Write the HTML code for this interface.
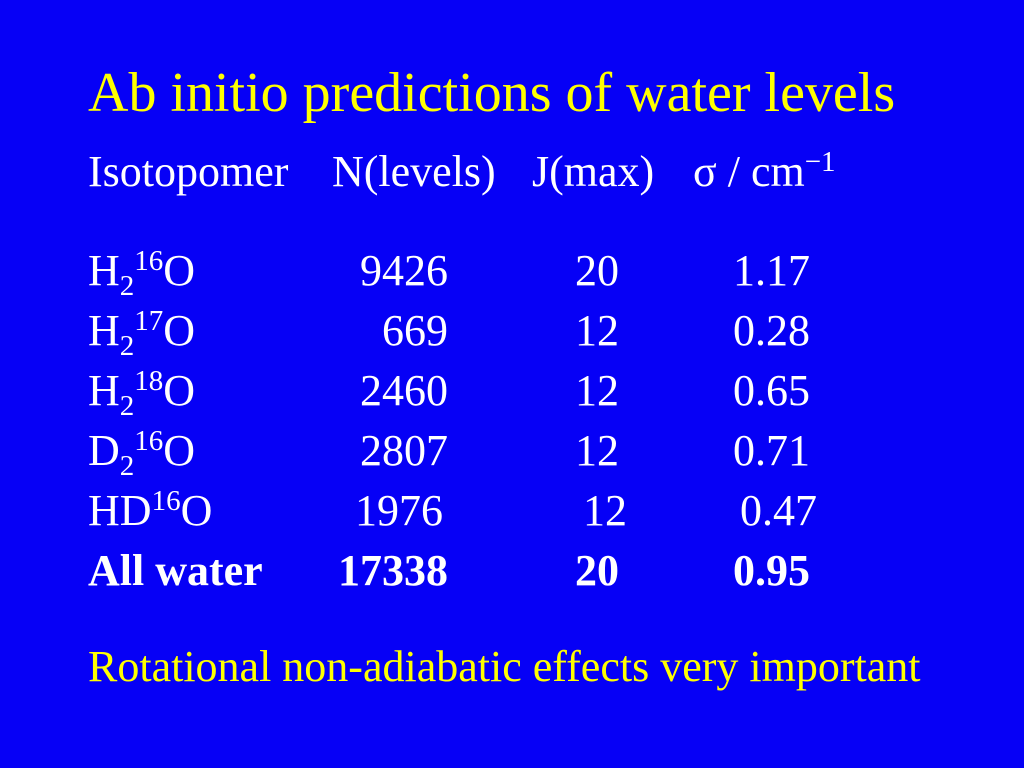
<!DOCTYPE html>
<html><head><meta charset="utf-8"><style>
body{margin:0;width:1024px;height:768px;background:#0600f6;overflow:hidden;position:relative;font-family:"Liberation Serif",serif;}
div.t{position:absolute;line-height:1;white-space:nowrap;color:#fff;font-size:44px;}
.y{color:#ffff00 !important}
.b{font-weight:bold}
.r{text-align:right}
sub,sup{font-size:29px;line-height:0}
sub{vertical-align:-10px}sup{vertical-align:15px}
</style></head><body>
<div class="t y" style="left:88px;top:65px;font-size:56px">Ab initio predictions of water levels</div>
<div class="t" style="left:88px;top:150px">Isotopomer</div>
<div class="t" style="left:332px;top:150px">N(levels)</div>
<div class="t" style="left:532px;top:150px">J(max)</div>
<div class="t" style="left:693px;top:150px">σ / cm<sup>−1</sup></div>

<div class="t" style="left:88px;top:249px">H<sub>2</sub><sup>16</sup>O</div>
<div class="t r" style="right:576px;top:249px">9426</div>
<div class="t" style="left:575px;top:249px">20</div>
<div class="t" style="left:733px;top:249px">1.17</div>

<div class="t" style="left:88px;top:309px">H<sub>2</sub><sup>17</sup>O</div>
<div class="t r" style="right:576px;top:309px">669</div>
<div class="t" style="left:575px;top:309px">12</div>
<div class="t" style="left:733px;top:309px">0.28</div>

<div class="t" style="left:88px;top:369px">H<sub>2</sub><sup>18</sup>O</div>
<div class="t r" style="right:576px;top:369px">2460</div>
<div class="t" style="left:575px;top:369px">12</div>
<div class="t" style="left:733px;top:369px">0.65</div>

<div class="t" style="left:88px;top:429px">D<sub>2</sub><sup>16</sup>O</div>
<div class="t r" style="right:576px;top:429px">2807</div>
<div class="t" style="left:575px;top:429px">12</div>
<div class="t" style="left:733px;top:429px">0.71</div>

<div class="t" style="left:88px;top:489px">HD<sup>16</sup>O</div>
<div class="t r" style="right:581px;top:489px">1976</div>
<div class="t" style="left:583px;top:489px">12</div>
<div class="t" style="left:740px;top:489px">0.47</div>

<div class="t b" style="left:88px;top:549px">All water</div>
<div class="t r b" style="right:576px;top:549px">17338</div>
<div class="t b" style="left:575px;top:549px">20</div>
<div class="t b" style="left:733px;top:549px">0.95</div>

<div class="t y" style="left:88px;top:645px">Rotational non-adiabatic effects very important</div>
</body></html>
